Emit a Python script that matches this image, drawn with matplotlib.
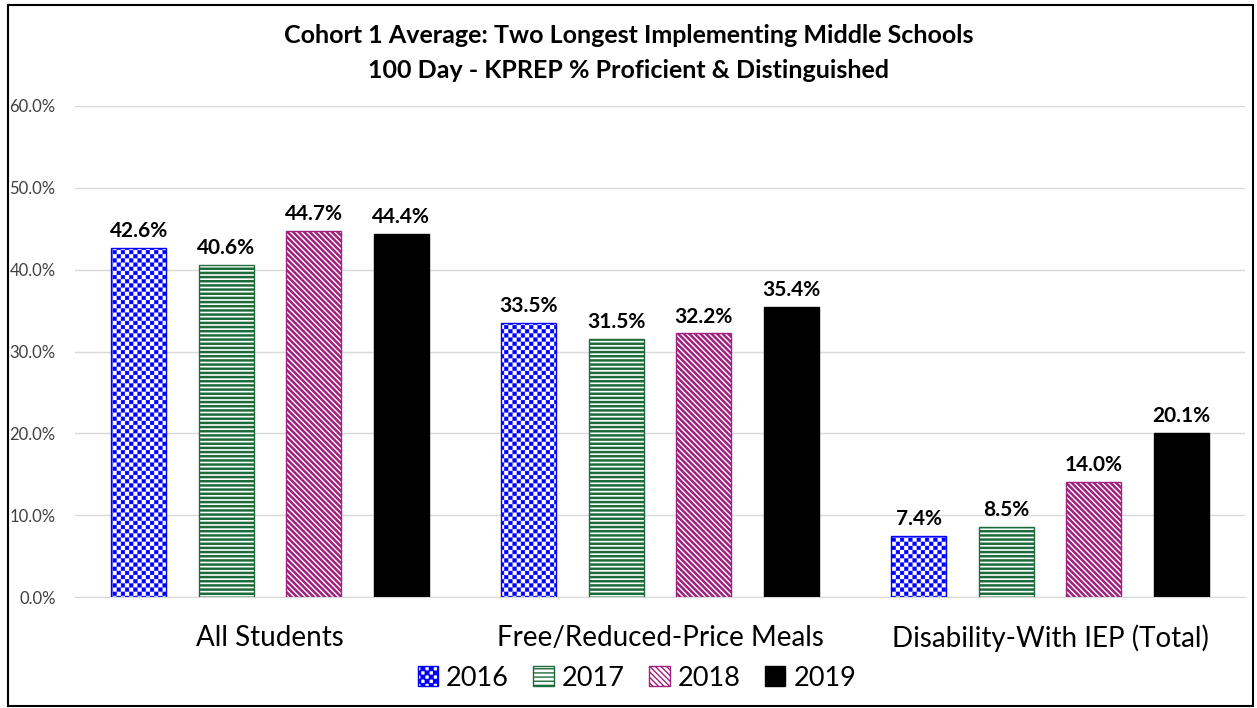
import numpy as np
import matplotlib
matplotlib.use("Agg")
import matplotlib.pyplot as plt
import matplotlib.hatch as mhatch
from matplotlib.path import Path
from matplotlib.patches import Rectangle

# ---- data ----
categories = ["All Students", "Free/Reduced-Price Meals", "Disability-With IEP (Total)"]
years = ["2016", "2017", "2018", "2019"]
v2016 = [42.6, 33.5, 7.4]
v2017 = [40.6, 31.5, 8.5]
v2018 = [44.7, 32.2, 14.0]
v2019 = [44.4, 35.4, 20.1]
series = [v2016, v2017, v2018, v2019]
yticks = [0, 10, 20, 30, 40, 50, 60]
title = "Cohort 1 Average: Two Longest Implementing Middle Schools\n100 Day - KPREP % Proficient & Distinguished"


# ---- custom checkerboard hatch (hooked onto '.') ----
class Checker(mhatch.HatchPatternBase):
    def __init__(self, hatch, density):
        self.n = 24 if '.' in hatch else 0
        self.num_vertices = (self.n * self.n // 2) * 5

    def set_vertices_and_codes(self, vertices, codes):
        n = self.n
        s = 1.0 / n
        ins = 0.003
        k = 0
        for i in range(n):
            for j in range(n):
                if (i + j) % 2 == 0:
                    x0, y0 = i * s + ins, j * s + ins
                    x1, y1 = (i + 1) * s - ins, (j + 1) * s - ins
                    vertices[k:k + 5] = [(x0, y0), (x1, y0), (x1, y1), (x0, y1), (x0, y0)]
                    codes[k] = Path.MOVETO
                    codes[k + 1:k + 4] = Path.LINETO
                    codes[k + 4] = Path.CLOSEPOLY
                    k += 5


mhatch._hatch_types = [h for h in mhatch._hatch_types if h is not mhatch.SmallFilledCircles] + [Checker]

plt.rcParams['font.family'] = ['Lato', 'DejaVu Sans']

fig = plt.figure(figsize=(12.57, 7.08), dpi=100)
ax = fig.add_axes([75 / 1257, 1 - 597 / 708, 1170 / 1257, (597 - 106) / 708])

colors = ["#0000FF", "#1D6B3A", "#A0207F", "#000000"]
hatches = ["..", "----", "\\\\\\\\\\\\", None]
hlw = [0.4, 1.8, 1.8, 1.0]
faces = ["white", "white", "white", "#000000"]

x = np.arange(len(categories))
bw = 0.141
step = 0.224
handles = []
for i, (vals, c, h, f, lw) in enumerate(zip(series, colors, hatches, faces, hlw)):
    plt.rcParams['hatch.linewidth'] = lw
    pos = x + (i - 1.5) * step
    bars = ax.bar(pos, vals, width=bw, color=f, edgecolor=c, hatch=h, linewidth=1.0,
                  label=years[i], zorder=3)
    for b in bars:
        if hasattr(b, "set_hatch_linewidth"):
            b.set_hatch_linewidth(lw)
    handles.append(bars)
    for p, v in zip(pos, vals):
        ax.annotate(f"{v:.1f}%", (p, v), xytext=(0, 5), textcoords="offset points",
                    ha="center", va="bottom", fontsize=15, fontweight="bold", color="black")

ax.set_xlim(-0.5, 2.5)
ax.set_ylim(0, 60)
ax.set_yticks(yticks)
ax.set_yticklabels([f"{t:.1f}%" for t in yticks], fontsize=12, color="#404040")
ax.set_xticks(x)
ax.set_xticklabels(categories, fontsize=20, color="black")
ax.tick_params(axis="y", length=0, pad=14)
ax.tick_params(axis="x", length=0, pad=20)
ax.grid(axis="y", color="#D9D9D9", linewidth=1.0, zorder=0)
for s in ["top", "right", "left"]:
    ax.spines[s].set_visible(False)
ax.spines["bottom"].set_color("#D9D9D9")

fig.text(0.5, 1 - 53 / 708, title, ha="center", va="center", fontsize=18,
         fontweight="bold", linespacing=1.6)

leg = fig.legend(handles=handles, loc="center", bbox_to_anchor=(637 / 1257, 1 - 678 / 708),
                 ncol=4, frameon=False, fontsize=19.5, handlelength=0.75, handleheight=0.75,
                 handletextpad=0.3, columnspacing=0.9)

fig.patches.append(Rectangle((8 / 1257, 2 / 708), 1245 / 1257, 701 / 708, transform=fig.transFigure,
                             fill=False, edgecolor="black", linewidth=1.5))

fig.savefig("out.png", dpi=100)
